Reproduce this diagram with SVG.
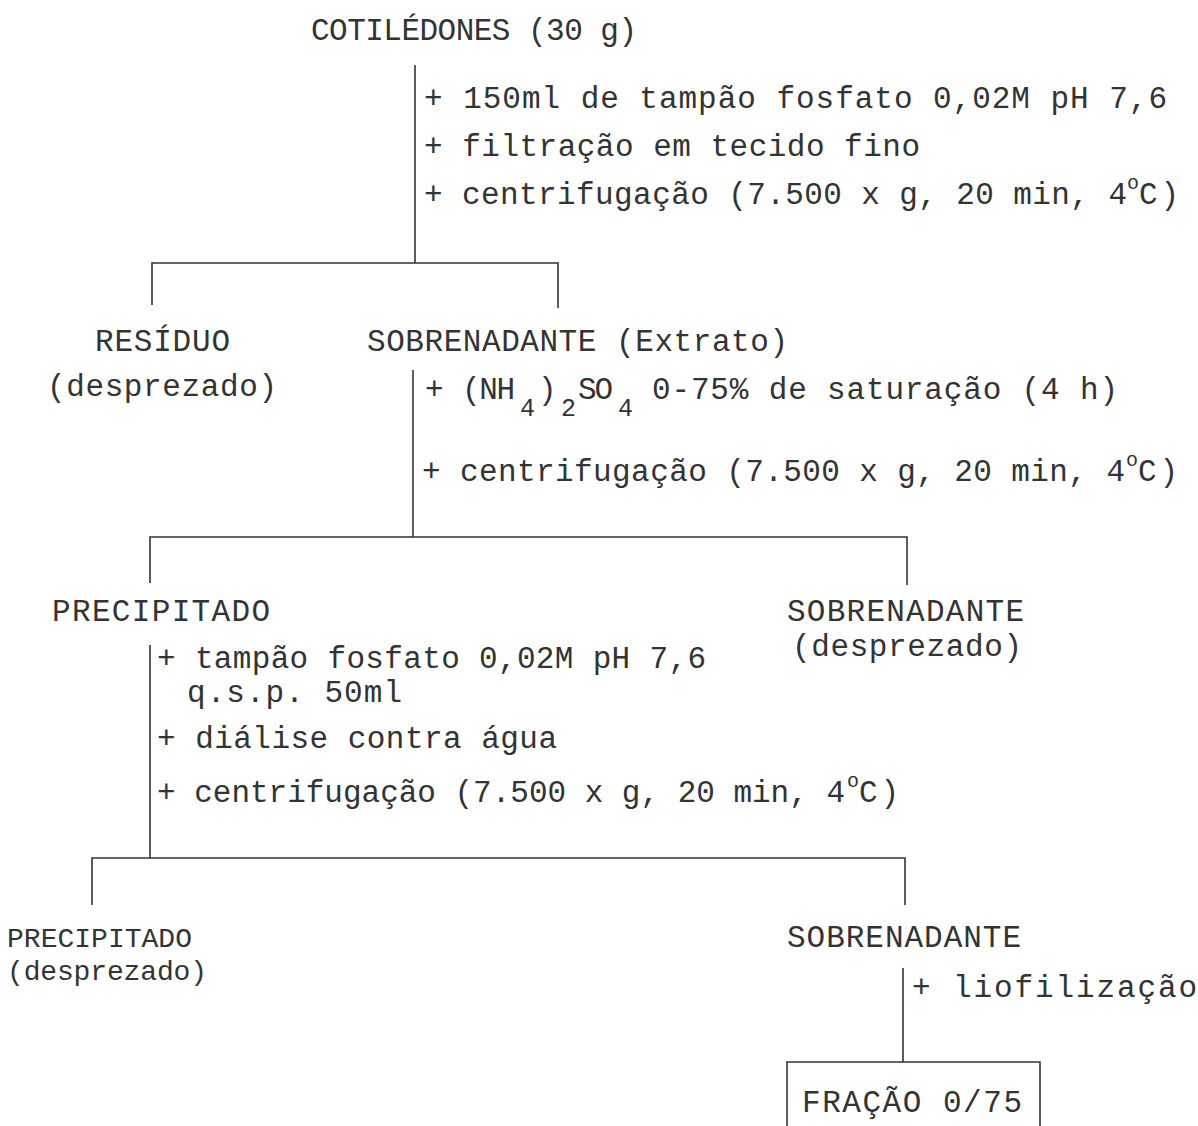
<svg xmlns="http://www.w3.org/2000/svg" width="1198" height="1126" viewBox="0 0 1198 1126">
<style>
text{font-family:"Liberation Mono","DejaVu Sans Mono",monospace;font-size:31px;fill:#333333}
.sub{font-size:25px}
.sup{font-size:20px}
.sm{font-size:28px}
.c line,.c path,.box{stroke:#333333;stroke-width:1.6;fill:none}
</style>
<rect width="1198" height="1126" fill="#ffffff"/>
<g class="c" id="connectors">
<line x1="415" y1="65" x2="415" y2="263"/>
<path d="M152 305 V263 H558 V308"/>
<line x1="413" y1="370" x2="413" y2="537"/>
<path d="M150 583 V537 H907 V585"/>
<line x1="150" y1="645" x2="150" y2="858"/>
<path d="M92 905 V858 H905 V905"/>
<line x1="903" y1="968" x2="903" y2="1062"/>
</g>
<g id="cotiledones"><text x="311" y="40" textLength="326" lengthAdjust="spacing">COTILÉDONES (30 g)</text></g>
<g id="step1">
<text x="424" y="108" textLength="743" lengthAdjust="spacing">+ 150ml de tampão fosfato 0,02M pH 7,6</text>
<text x="424" y="156" textLength="496" lengthAdjust="spacing">+ filtração em tecido fino</text>
<text x="424" y="204" textLength="703" lengthAdjust="spacing">+ centrifugação (7.500 x g, 20 min, 4</text>
<text class="sup" x="1127" y="189">o</text>
<text x="1139" y="204" textLength="40" lengthAdjust="spacing">C)</text>
</g>
<g id="residuo">
<text x="95" y="351" textLength="135" lengthAdjust="spacing">RESÍDUO</text>
<text x="47" y="396" textLength="230" lengthAdjust="spacing">(desprezado)</text>
</g>
<g id="sobrenadante-extrato"><text x="367" y="351" textLength="421" lengthAdjust="spacing">SOBRENADANTE (Extrato)</text></g>
<g id="step2">
<text x="425" y="399">+</text>
<text x="462" y="399" textLength="53" lengthAdjust="spacing">(NH</text>
<text class="sub" x="520" y="416">4</text>
<text x="538" y="399">)</text>
<text class="sub" x="561" y="416">2</text>
<text x="578" y="399" textLength="35" lengthAdjust="spacing">SO</text>
<text class="sub" x="618" y="416">4</text>
<text x="652" y="399" textLength="466" lengthAdjust="spacing">0-75% de saturação (4 h)</text>
<text x="422" y="481" textLength="703" lengthAdjust="spacing">+ centrifugação (7.500 x g, 20 min, 4</text>
<text class="sup" x="1126" y="466">o</text>
<text x="1138" y="481" textLength="40" lengthAdjust="spacing">C)</text>
</g>
<g id="precipitado1"><text x="52" y="621" textLength="218" lengthAdjust="spacing">PRECIPITADO</text></g>
<g id="sobrenadante-desprezado">
<text x="787" y="621" textLength="237" lengthAdjust="spacing">SOBRENADANTE</text>
<text x="792" y="656" textLength="230" lengthAdjust="spacing">(desprezado)</text>
</g>
<g id="step3">
<text x="157" y="668" textLength="549" lengthAdjust="spacing">+ tampão fosfato 0,02M pH 7,6</text>
<text x="187" y="702" textLength="215" lengthAdjust="spacing">q.s.p. 50ml</text>
<text x="157" y="748" textLength="400" lengthAdjust="spacing">+ diálise contra água</text>
<text x="157" y="802" textLength="688" lengthAdjust="spacing">+ centrifugação (7.500 x g, 20 min, 4</text>
<text class="sup" x="847" y="787">o</text>
<text x="859" y="802" textLength="40" lengthAdjust="spacing">C)</text>
</g>
<g id="precipitado2">
<text class="sm" x="7" y="947" textLength="185" lengthAdjust="spacing">PRECIPITADO</text>
<text class="sm" x="7" y="980" textLength="200" lengthAdjust="spacing">(desprezado)</text>
</g>
<g id="sobrenadante2"><text x="787" y="947" textLength="234" lengthAdjust="spacing">SOBRENADANTE</text></g>
<g id="step4"><text x="912" y="997" textLength="285" lengthAdjust="spacing">+ liofilização</text></g>
<g id="fracao">
<path class="box" d="M787 1126 V1062 H1040 V1126"/>
<text x="802" y="1112" textLength="220" lengthAdjust="spacing">FRAÇÃO 0/75</text>
</g>
</svg>
